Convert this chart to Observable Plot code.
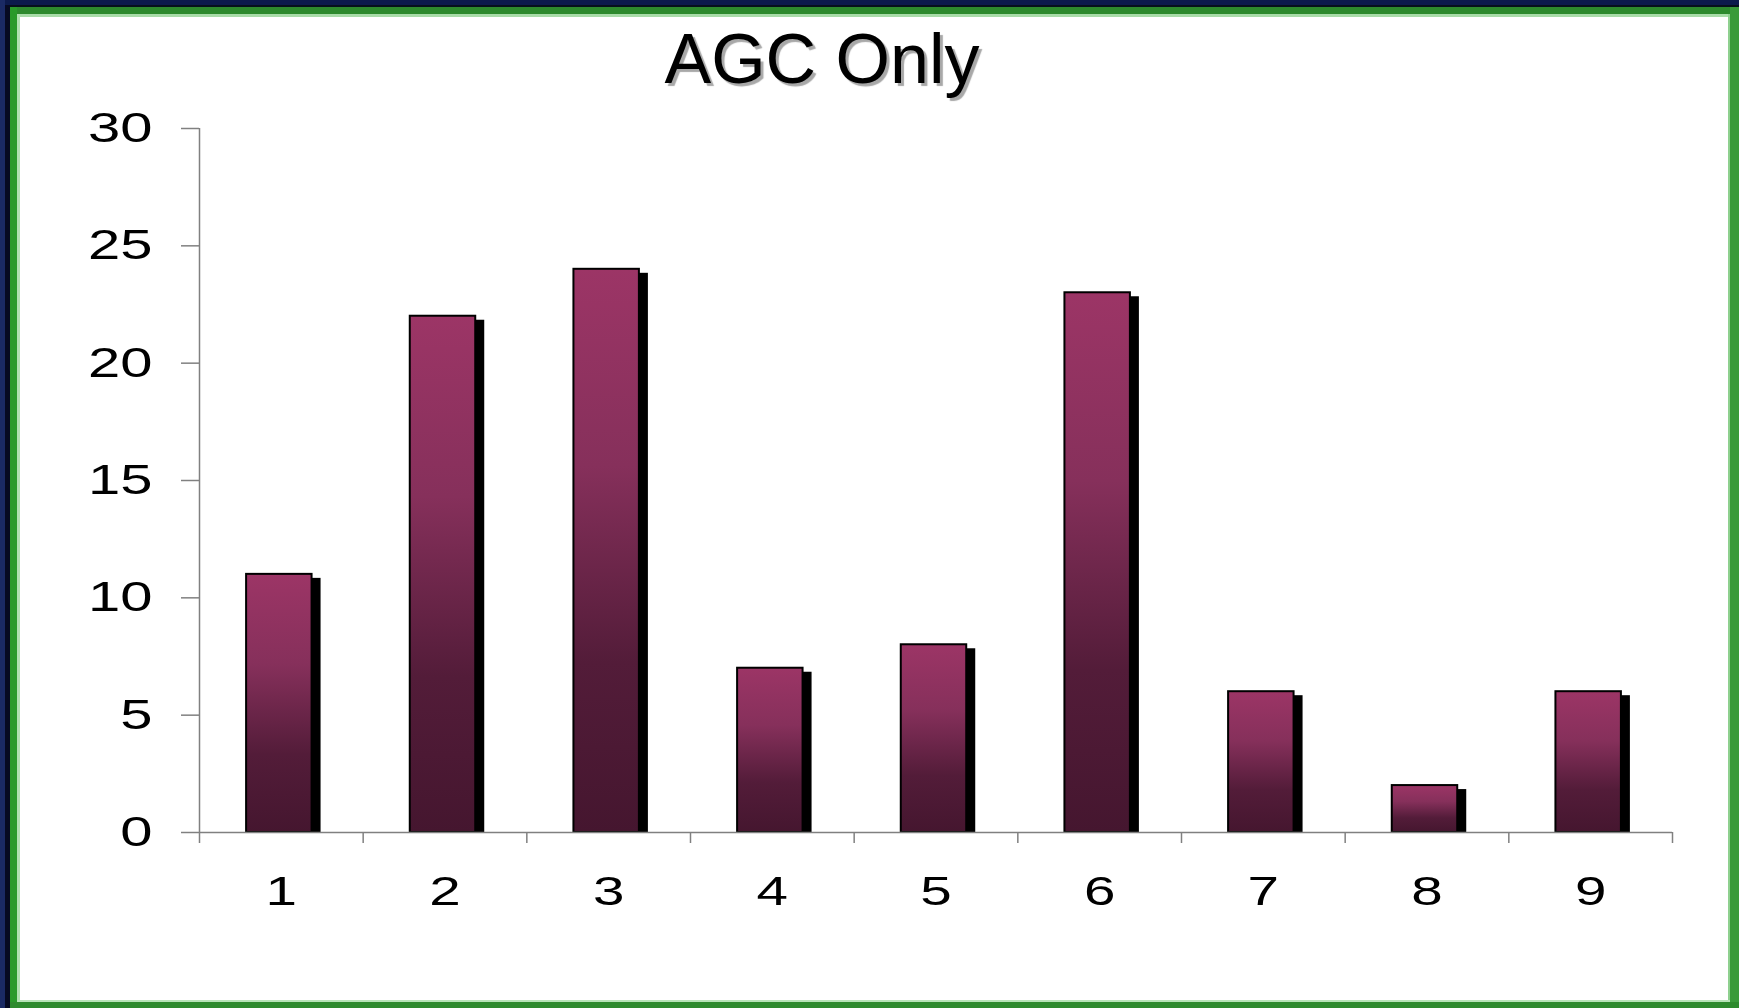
<!DOCTYPE html>
<html>
<head>
<meta charset="utf-8">
<script src="https://cdn.jsdelivr.net/npm/d3@7"></script>
<script src="https://cdn.jsdelivr.net/npm/@observablehq/plot@0.6"></script>
<style>
  html, body { margin: 0; padding: 0; background: #ffffff; }
  body { width: 1739px; height: 1008px; position: relative; overflow: hidden; font-family: "Liberation Sans", Arial, sans-serif; }
  .strip { position: absolute; }
  #title { position: absolute; left: 422px; width: 800px; top: 24px; text-align: center; font-size: 70px; line-height: 70px; color: #000; text-shadow: 3px 3px 1px #a8a8a8; white-space: nowrap; }
  #chart { position: absolute; left: 0; top: 100px; }
</style>
</head>
<body>
<svg width="0" height="0" style="position:absolute">
  <defs>
    <linearGradient id="barGrad" x1="0" y1="0" x2="0" y2="1">
      <stop offset="0" stop-color="#9c3566"/>
      <stop offset="0.35" stop-color="#86305b"/>
      <stop offset="0.7" stop-color="#531c39"/>
      <stop offset="1" stop-color="#45162f"/>
    </linearGradient>
  </defs>
</svg>
<!-- frame -->
<div class="strip" style="left:0;top:0;width:1739px;height:5px;background:#0c1a4c"></div>
<div class="strip" style="left:0;top:5px;width:1739px;height:2px;background:#06101c"></div>
<div class="strip" style="left:0;top:0;width:5px;height:1008px;background:#1a2a64"></div>
<div class="strip" style="left:5px;top:5px;width:5px;height:1003px;background:#060a22"></div>
<div class="strip" style="left:10px;top:7px;width:1729px;height:7px;background:#2d8a2d"></div>
<div class="strip" style="left:10px;top:14px;width:1729px;height:3px;background:#a8dca8"></div>
<div class="strip" style="left:10px;top:7px;width:7px;height:1001px;background:#2a9a2a"></div>
<div class="strip" style="left:17px;top:14px;width:3px;height:994px;background:#b0e0b0"></div>
<div class="strip" style="left:1728px;top:14px;width:2px;height:994px;background:#8fd08f"></div>
<div class="strip" style="left:1730px;top:7px;width:9px;height:1001px;background:#3a9a3a"></div>
<div class="strip" style="left:17px;top:1000px;width:1713px;height:2px;background:#b8e4b8"></div>
<div class="strip" style="left:10px;top:1002px;width:1729px;height:6px;background:#2e8b2e"></div>

<div id="title">AGC Only</div>
<div id="chart"></div>

<script>
const categories = ["1", "2", "3", "4", "5", "6", "7", "8", "9"];
const values = [11, 22, 24, 7, 8, 23, 6, 2, 6];
const yTicks = [0, 5, 10, 15, 20, 25, 30];

const data = categories.map((c, i) => ({cat: c, value: values[i]}));

const W = 1739, H = 850;
const mL = 199, mR = 67, mT = 28, mB = 118;
const bw = (W - mL - mR) / categories.length;
const axisGray = "#808080";

const plot = Plot.plot({
  width: W,
  height: H,
  marginLeft: mL,
  marginRight: mR,
  marginTop: mT,
  marginBottom: mB,
  style: {background: "transparent", fontFamily: "'Liberation Sans', Arial, sans-serif", overflow: "visible"},
  x: {type: "band", domain: categories, paddingInner: 0.6, paddingOuter: 0.3, round: false, axis: null, label: null},
  y: {domain: [0, 30], axis: null, label: null},
  marks: [
    Plot.barY(data, {x: "cat", y: "value", fill: "black", dx: 7, dy: 4, insetBottom: 4}),
    Plot.barY(data, {x: "cat", y: "value", fill: "url(#barGrad)", stroke: "black", strokeWidth: 2, dx: -2}),
    Plot.ruleY([0], {stroke: axisGray, strokeWidth: 1.5}),
    Plot.ruleX([categories[0]], {y1: 0, y2: 30, dx: -bw / 2, stroke: axisGray, strokeWidth: 1.5}),
    Plot.axisY({ticks: yTicks, label: null, tickSize: 18, tickPadding: 29, fontSize: 42, stroke: axisGray, fill: "black", strokeWidth: 1.5, tickFormat: d => String(d)}),
    Plot.axisX({ticks: categories, label: null, tickSize: 0, tickPadding: 43, fontSize: 41, fill: "black", stroke: "none"}),
    Plot.axisX({ticks: categories, label: null, tickSize: 11, text: null, dx: bw / 2, stroke: axisGray, strokeWidth: 1.5}),
    Plot.axisX({ticks: [categories[0]], label: null, tickSize: 11, text: null, dx: -bw / 2, stroke: axisGray, strokeWidth: 1.5})
  ]
});

document.getElementById("chart").appendChild(plot);

// stretch tick labels horizontally like the original (anchor kept in place)
function stretch(sel, s, anchor) {
  d3.select(plot).selectAll(sel).each(function () {
    const b = this.getBBox();
    const ax = anchor === "end" ? b.x + b.width : b.x + b.width / 2;
    const t = this.getAttribute("transform") || "";
    this.setAttribute("transform", `${t} translate(${ax},0) scale(${s},1) translate(${-ax},0)`);
  });
}
stretch('g[aria-label="y-axis tick label"] text', 1.38, "end");
stretch('g[aria-label="x-axis tick label"] text', 1.38, "middle");
</script>
</body>
</html>
